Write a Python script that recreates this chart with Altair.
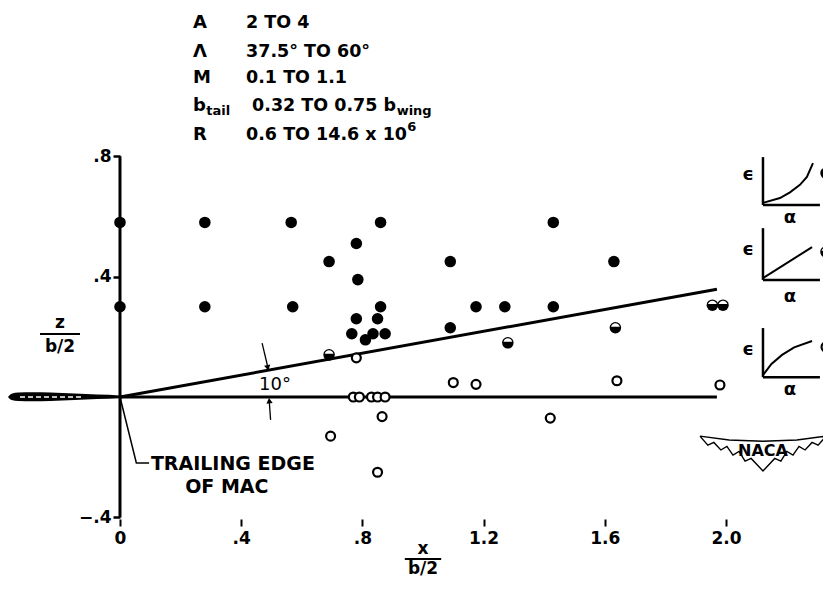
import altair as alt
import pandas as pd

# ---------------- values ----------------
# filled symbols (x/(b/2), z/(b/2))
filled_x = [0.0, 0.0, 0.28, 0.28, 0.565, 0.57, 0.86, 0.69, 0.78, 0.785, 0.86, 0.78, 0.85,
            0.765, 0.81, 0.835, 0.875, 1.09, 1.09, 1.175, 1.27, 1.43, 1.43, 1.63]
filled_z = [0.58, 0.30, 0.58, 0.30, 0.58, 0.30, 0.58, 0.45, 0.51, 0.39, 0.30, 0.26, 0.26,
            0.21, 0.19, 0.21, 0.21, 0.45, 0.23, 0.30, 0.30, 0.30, 0.58, 0.45]
# half-filled symbols
half_x = [0.69, 1.28, 1.635, 1.955, 1.99]
half_z = [0.14, 0.18, 0.23, 0.305, 0.305]
# open symbols
open_x = [0.78, 0.77, 0.79, 0.83, 0.85, 0.875, 0.865, 0.695, 0.85, 1.10, 1.175, 1.64, 1.98, 1.42]
open_z = [0.13, 0.0, 0.0, 0.0, 0.0, 0.0, -0.065, -0.13, -0.25, 0.048, 0.042, 0.054, 0.04, -0.07]

# reference lines
zero_line_x = [0.0, 1.97]
zero_line_z = [0.0, 0.0]
ten_deg_x = [0.0, 1.97]
ten_deg_z = [0.0, 0.358]

# axis ticks
x_ticks = [0.0, 0.4, 0.8, 1.2, 1.6, 2.0]
y_ticks = [-0.4, 0.4, 0.8]

# legend block
legend_keys = ["A", "Λ", "M", "b", "R"]
legend_vals = ["2 TO 4", "37.5° TO 60°", "0.1 TO 1.1", "0.32 TO 0.75 b", "0.6 TO 14.6 x 10"]
legend_rows_z = [1.2425, 1.1462, 1.0598, 0.9668, 0.8704]

# wing section (airfoil) outline
foil_x = [-0.3696, -0.358, -0.335, -0.290, -0.230, -0.150, -0.075, 0.0, 0.04]
foil_up = [0.0, 0.011, 0.015, 0.016, 0.015, 0.012, 0.008, 0.005, 0.001]
foil_lo = [0.0, -0.010, -0.013, -0.014, -0.013, -0.010, -0.007, -0.004, -0.001]

# small epsilon-alpha sketches
icon1_curve_x = [2.122, 2.178, 2.211, 2.244, 2.267, 2.287]
icon1_curve_z = [0.645, 0.661, 0.680, 0.705, 0.731, 0.777]
icon2_curve_x = [2.122, 2.284]
icon2_curve_z = [0.395, 0.498]
icon3_curve_x = [2.122, 2.150, 2.185, 2.225, 2.284]
icon3_curve_z = [0.073, 0.110, 0.140, 0.165, 0.186]

# NACA wings outline
naca_x = [1.914, 2.010, 2.122, 2.234, 2.330, 2.304, 2.284, 2.261, 2.241, 2.221, 2.201, 2.181,
          2.161, 2.122, 2.083, 2.063, 2.043, 2.023, 2.003, 1.983, 1.960, 1.940, 1.914]
naca_z = [-0.130, -0.143, -0.147, -0.143, -0.130, -0.160, -0.151, -0.176, -0.164, -0.193,
          -0.181, -0.213, -0.204, -0.246, -0.204, -0.213, -0.181, -0.193, -0.164, -0.176,
          -0.151, -0.160, -0.130]

# ---------------- chart ----------------
FONT = "DejaVu Sans"
W, H = 815, 573
XMIN, XMAX = -0.3696, 2.3201
ZMIN, ZMAX = -0.6113, 1.2924

xs = alt.Scale(domain=[XMIN, XMAX], nice=False, zero=False)
zs = alt.Scale(domain=[ZMIN, ZMAX], nice=False, zero=False)

x_axis = alt.Axis(values=x_ticks, title=None, domain=False, grid=False, ticks=True,
                  tickSize=7, tickWidth=2, tickColor="black", offset=-62,
                  labelFont=FONT, labelFontSize=17, labelFontWeight="bold", labelColor="black",
                  labelPadding=4,
                  labelExpr="datum.value == 0 ? '0' : (datum.value < 1 ? replace(format(datum.value, '.1f'), '0.', '.') : format(datum.value, '.1f'))")
y_axis = alt.Axis(values=y_ticks, title=None, domain=False, grid=False, ticks=True,
                  tickSize=7, tickWidth=2.5, tickColor="black", offset=-112,
                  labelFont=FONT, labelFontSize=17, labelFontWeight="bold", labelColor="black",
                  labelPadding=2,
                  labelExpr="replace(format(datum.value, '.1f'), '0.', '.')")

X = alt.X("x:Q", scale=xs, axis=x_axis)
Z = alt.Y("z:Q", scale=zs, axis=y_axis)

# lines
line_rows = []
def add_line(name, xs_, zs_, w):
    for i, (a, b) in enumerate(zip(xs_, zs_)):
        line_rows.append({"g": name, "i": i, "x": a, "z": b, "w": w})

add_line("zero", zero_line_x, zero_line_z, 3)
add_line("ten", ten_deg_x, ten_deg_z, 3)
add_line("yaxis", [0.0, 0.0], [-0.4, 0.8], 3)
add_line("leader", [0.0, 0.054, 0.096], [0.0, -0.219, -0.219], 1.5)
add_line("arr1", [0.469, 0.487], [0.179, 0.103], 1.3)
add_line("arr2", [0.497, 0.493], [-0.076, -0.020], 1.3)
for k, (zt, zb) in enumerate([(0.797, 0.638), (0.561, 0.389), (0.229, 0.066)]):
    add_line(f"iv{k}", [2.122, 2.122], [zt, zb], 2.5)
    add_line(f"ih{k}", [2.122, 2.310], [zb, zb], 2.5)
add_line("c1", icon1_curve_x, icon1_curve_z, 2)
add_line("c2", icon2_curve_x, icon2_curve_z, 2)
add_line("c3", icon3_curve_x, icon3_curve_z, 2)
add_line("naca", naca_x, naca_z, 1.4)
lines_df = pd.DataFrame(line_rows)

lines = alt.Chart(lines_df).mark_line(color="black", strokeCap="butt", strokeJoin="miter").encode(
    x=X, y=Z, detail="g:N", order="i:Q",
    strokeWidth=alt.StrokeWidth("w:Q", scale=None, legend=None))

foil_df = pd.DataFrame({"x": foil_x, "z": foil_up, "z2": foil_lo})
foil = alt.Chart(foil_df).mark_area(color="black", interpolate="monotone").encode(
    x=X, y=Z, y2="z2:Q")
hatch = alt.Chart(pd.DataFrame({"x": [-0.33, -0.12], "z": [0.0, 0.0]})).mark_line(
    color="white", strokeWidth=1.6, strokeDash=[5, 3]).encode(x=X, y=Z)

filled_df = pd.DataFrame({"x": filled_x + [2.330], "z": filled_z + [0.744]})
half_df = pd.DataFrame({"x": half_x + [2.330], "z": half_z + [0.482]})
open_df = pd.DataFrame({"x": open_x + [2.330], "z": open_z + [0.166]})

filled_pts = alt.Chart(filled_df).mark_point(shape="circle", filled=True, size=133,
                                              color="black", opacity=1).encode(x=X, y=Z)
half_base = alt.Chart(half_df).mark_point(shape="circle", filled=True, size=133,
                                           color="black", opacity=1).encode(x=X, y=Z)
half_cap = alt.Chart(half_df).mark_point(shape="M -0.968 -0.25 A 1 1 0 0 1 0.968 -0.25 Z",
                                          filled=True, size=81, color="white",
                                          opacity=1).encode(x=X, y=Z)
open_pts = alt.Chart(open_df).mark_point(shape="circle", filled=True, size=80, fill="white",
                                          stroke="black", strokeWidth=2.2,
                                          opacity=1).encode(x=X, y=Z)

arrow_df = pd.DataFrame({"x": [0.487, 0.493], "z": [0.0997, -0.015], "a": [168, 354]})
arrows = alt.Chart(arrow_df).mark_point(shape="triangle", filled=True, size=40, color="black",
                                         opacity=1).encode(
    x=X, y=Z, angle=alt.Angle("a:Q", scale=None))

def text_layer(df, size=17, weight="bold", align="left", baseline="middle"):
    return alt.Chart(df).mark_text(font=FONT, fontSize=size, fontWeight=weight, align=align,
                                   baseline=baseline, color="black").encode(
        x=X, y=Z, text="t:N")

leg_key = text_layer(pd.DataFrame({"x": [0.241] * 5, "z": legend_rows_z, "t": legend_keys}), size=18)
leg_val = text_layer(pd.DataFrame({"x": [0.416, 0.416, 0.416, 0.436, 0.416],
                                   "z": legend_rows_z, "t": legend_vals}), size=17.5)
leg_sub = text_layer(pd.DataFrame({"x": [0.285, 0.913], "z": [0.950, 0.950],
                                   "t": ["tail", "wing"]}), size=13)
leg_sup = text_layer(pd.DataFrame({"x": [0.948], "z": [0.896], "t": ["6"]}), size=13)

center_txt = text_layer(pd.DataFrame({
    "x": [-0.198, -0.198, 1.0, 1.0],
    "z": [0.245, 0.165, -0.505, -0.571],
    "t": ["z", "b/2", "x", "b/2"]}), align="center")
bars = alt.Chart(pd.DataFrame({"x": [-0.264, 0.94], "x2": [-0.132, 1.06],
                               "z": [0.209, -0.538]})).mark_rule(
    color="black", strokeWidth=2).encode(x=X, x2="x2:Q", y=Z)

te_txt = text_layer(pd.DataFrame({"x": [0.102, 0.215], "z": [-0.2226, -0.299],
                                  "t": ["TRAILING EDGE", "OF MAC"]}), size=19)

ten_txt = text_layer(pd.DataFrame({"x": [0.5116], "z": [0.0415], "t": ["10°"]}),
                     size=18, weight="normal", align="center")
icon_txt = text_layer(pd.DataFrame({
    "x": [2.073, 2.211, 2.073, 2.211, 2.073, 2.211],
    "z": [0.738, 0.595, 0.488, 0.332, 0.156, 0.023],
    "t": ["ϵ", "α", "ϵ", "α", "ϵ", "α"]}), size=18, align="center")
naca_txt = text_layer(pd.DataFrame({"x": [2.122], "z": [-0.180], "t": ["NACA"]}),
                      size=16, align="center")

chart = alt.layer(
    foil, hatch, lines, filled_pts, half_base, half_cap, open_pts, arrows,
    leg_key, leg_val, leg_sub, leg_sup, center_txt, bars, te_txt, ten_txt, icon_txt, naca_txt
).properties(
    width=W, height=H, padding=0, autosize=alt.AutoSizeParams(type="none"),
    background="white"
).configure_view(stroke=None)

chart.save("out.html", embed_options={"renderer": "svg", "actions": False})
